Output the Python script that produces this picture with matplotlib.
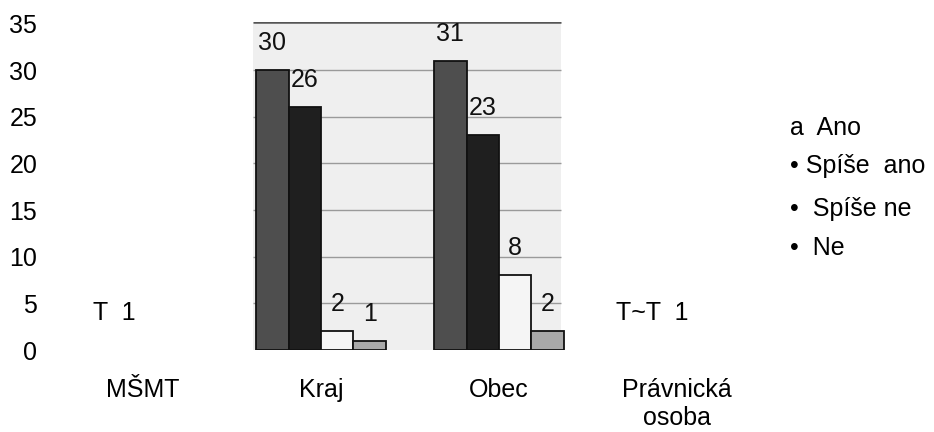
import matplotlib
matplotlib.use("Agg")
import matplotlib.pyplot as plt
import numpy as np

plt.rcParams['font.family'] = ['Liberation Sans', 'DejaVu Sans']

categories = ["MŠMT", "Kraj", "Obec", "Právnická\nosoba"]
series_names = ["Ano", "Spíše ano", "Spíše ne", "Ne"]
legend_labels = ["a  Ano", "• Spíše  ano", "•  Spíše ne", "•  Ne"]
# values only visible for Kraj and Obec (index 1, 2)
shown_idx = [1, 2]
ano = [30, 31]
spise_ano = [26, 23]
spise_ne = [2, 8]
ne = [1, 2]
yticks = [0, 5, 10, 15, 20, 25, 30, 35]
stray_texts = ["T  1", "T~T  1"]

values = [ano, spise_ano, spise_ne, ne]
colors = ["#4e4e4e", "#1f1f1f", "#f5f5f5", "#a9a9a9"]

W, H = 934, 432
fig = plt.figure(figsize=(W / 100, H / 100), dpi=100)
px_left, px_right = 54, 766
px_bottom, px_top = 350, 22
ax = fig.add_axes([px_left / W, 1 - px_bottom / H,
                   (px_right - px_left) / W, (px_bottom - px_top) / H])
ymax = 35.15
ax.set_xlim(-0.5, 3.5)
ax.set_ylim(0, ymax)

fs = 18
bw = 0.182
# scanned picture background region
x0 = 1 - 2 * bw - 0.02
x1 = 2 + 2 * bw - 0.015
ax.axvspan(x0, x1, ymin=0, ymax=1, color="#efefef", zorder=0, lw=0)
for g in [5, 10, 15, 20, 25, 30]:
    ax.hlines(g, x0, x1, color="#9a9a9a", lw=1.0, zorder=1)
ax.hlines(ymax - 0.05, x0, x1, color="#555555", lw=1.8, zorder=1)

xs = np.array(shown_idx, dtype=float)
for k, (vals, col) in enumerate(zip(values, colors)):
    pos = xs + (k - 1.5) * bw
    ax.bar(pos, vals, width=bw, color=col, edgecolor="#111111", linewidth=1.3, zorder=2)
    for p, v in zip(pos, vals):
        ax.annotate(str(v), (p, v), xytext=(0, 19.5), textcoords="offset points",
                    ha="center", va="center", fontsize=fs, color="#111111",
                    zorder=3, annotation_clip=False)

ax.set_xticks(range(len(categories)))
ax.set_xticklabels(categories, fontsize=fs)
ax.set_yticks(yticks)
ax.set_yticklabels([str(t) for t in yticks], fontsize=fs)
ax.tick_params(axis="both", length=0)
ax.tick_params(axis="x", pad=20)
ax.tick_params(axis="y", pad=12)
for s in ax.spines.values():
    s.set_visible(False)

ax.text(-0.163, 4.0, stray_texts[0], fontsize=fs, ha="center", va="center")
ax.text(2.86, 4.0, stray_texts[1], fontsize=fs, ha="center", va="center")

leg_y = [128, 166, 209, 248]
for lab, yy in zip(legend_labels, leg_y):
    fig.text(790 / W, 1 - yy / H, lab, fontsize=fs, ha="left", va="center")

fig.savefig("out.png", dpi=100)
